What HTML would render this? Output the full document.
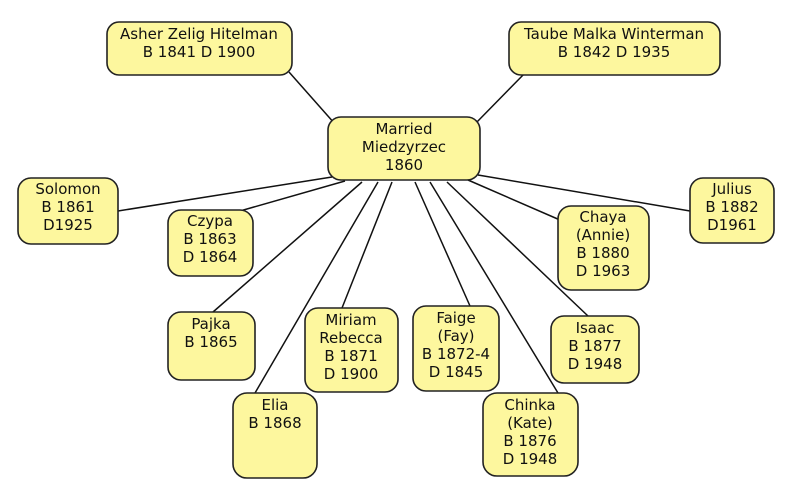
<!DOCTYPE html>
<html><head><meta charset="utf-8"><style>
html,body{margin:0;padding:0;background:#fff;width:800px;height:494px;overflow:hidden}
text{font-family:"DejaVu Sans","Liberation Sans",sans-serif;font-size:15px;fill:#111;text-anchor:middle}
rect{fill:#fdf79e;stroke:#222;stroke-width:1.6}
line{stroke:#111;stroke-width:1.5}
</style></head><body>
<svg width="800" height="494" xmlns="http://www.w3.org/2000/svg">
<line x1="289" y1="72" x2="335" y2="124"/>
<line x1="526" y1="72" x2="475" y2="124"/>
<line x1="118" y1="211" x2="332" y2="177"/>
<line x1="240" y1="211" x2="345" y2="181"/>
<line x1="213" y1="312" x2="362" y2="182"/>
<line x1="255" y1="393" x2="378" y2="182"/>
<line x1="342" y1="308" x2="392" y2="182"/>
<line x1="470" y1="306" x2="415" y2="182"/>
<line x1="558" y1="393" x2="430" y2="182"/>
<line x1="588" y1="316" x2="447" y2="182"/>
<line x1="560" y1="220" x2="468" y2="180"/>
<line x1="690" y1="211" x2="478" y2="175"/>

<rect x="107" y="22" width="185" height="53" rx="12"/>
<text x="199" y="39">Asher Zelig Hitelman</text><text x="199" y="57">B 1841 D 1900</text>
<rect x="509" y="22" width="211" height="53" rx="12"/>
<text x="614" y="39">Taube Malka Winterman</text><text x="614" y="57">B 1842 D 1935</text>
<rect x="328" y="117" width="152" height="63" rx="13"/>
<text x="404" y="134">Married</text><text x="404" y="152">Miedzyrzec</text><text x="404" y="170">1860</text>
<rect x="18" y="178" width="100" height="66" rx="13"/>
<text x="68" y="194">Solomon</text><text x="68" y="212">B 1861</text><text x="68" y="230">D1925</text>
<rect x="168" y="210" width="85" height="66" rx="13"/>
<text x="210" y="226">Czypa</text><text x="210" y="244">B 1863</text><text x="210" y="262">D 1864</text>
<rect x="558" y="206" width="91" height="84" rx="13"/>
<text x="603" y="222">Chaya</text><text x="603" y="240">(Annie)</text><text x="603" y="258">B 1880</text><text x="603" y="276">D 1963</text>
<rect x="690" y="178" width="84" height="65" rx="13"/>
<text x="732" y="194">Julius</text><text x="732" y="212">B 1882</text><text x="732" y="230">D1961</text>
<rect x="168" y="312" width="87" height="68" rx="13"/>
<text x="211" y="329">Pajka</text><text x="211" y="347">B 1865</text>
<rect x="305" y="308" width="93" height="84" rx="13"/>
<text x="351" y="325">Miriam</text><text x="351" y="343">Rebecca</text><text x="351" y="361">B 1871</text><text x="351" y="379">D 1900</text>
<rect x="413" y="306" width="86" height="85" rx="13"/>
<text x="456" y="323">Faige</text><text x="456" y="341">(Fay)</text><text x="456" y="359">B 1872-4</text><text x="456" y="377">D 1845</text>
<rect x="551" y="316" width="88" height="67" rx="13"/>
<text x="595" y="333">Isaac</text><text x="595" y="351">B 1877</text><text x="595" y="369">D 1948</text>
<rect x="233" y="393" width="84" height="85" rx="14"/>
<text x="275" y="410">Elia</text><text x="275" y="428">B 1868</text>
<rect x="483" y="393" width="95" height="83" rx="14"/>
<text x="530" y="410">Chinka</text><text x="530" y="428">(Kate)</text><text x="530" y="446">B 1876</text><text x="530" y="464">D 1948</text>
</svg>
</body></html>
